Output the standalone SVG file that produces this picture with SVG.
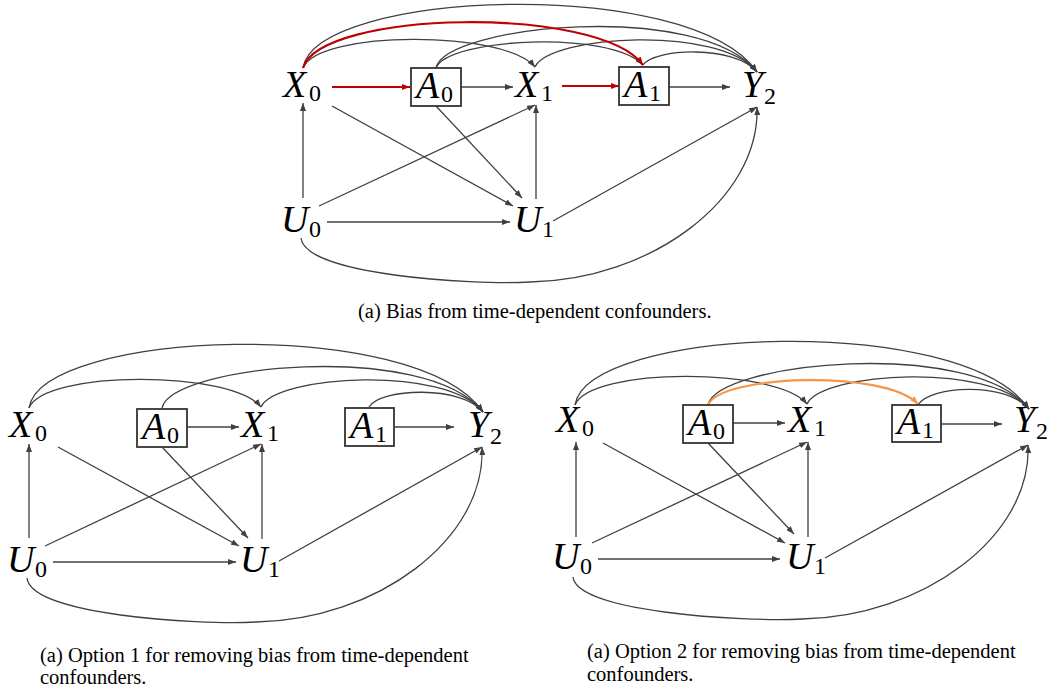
<svg xmlns="http://www.w3.org/2000/svg" width="1047" height="690" viewBox="0 0 1047 690">
<style>
.e{fill:none;stroke:#404040;stroke-width:1.3}
.r{fill:none;stroke:#c00000;stroke-width:2.2}
.o{fill:none;stroke:#f79646;stroke-width:2.2}
.v{font-family:"Liberation Serif","DejaVu Serif",serif;font-style:italic;font-size:38px;fill:#000}
.s{font-family:"Liberation Serif","DejaVu Serif",serif;font-size:24px;fill:#000}
.box{fill:#fff;stroke:#333;stroke-width:1.8}
.cap{font-family:"Liberation Serif","Times New Roman",serif;font-size:20.5px;fill:#000}
</style>
<defs>
<marker id="ak" viewBox="0 0 8 6" refX="8" refY="3" markerWidth="8" markerHeight="6" markerUnits="userSpaceOnUse" orient="auto"><path d="M0,0 L8,3 L0,6 z" fill="#404040"/></marker>
<marker id="ar" viewBox="0 0 8 6" refX="8" refY="3" markerWidth="8" markerHeight="6" markerUnits="userSpaceOnUse" orient="auto"><path d="M0,0 L8,3 L0,6 z" fill="#c00000"/></marker>
<marker id="ao" viewBox="0 0 8 6" refX="8" refY="3" markerWidth="8" markerHeight="6" markerUnits="userSpaceOnUse" orient="auto"><path d="M0,0 L8,3 L0,6 z" fill="#f79646"/></marker>
</defs>

<!-- Diagram (a): Bias from time-dependent confounders -->
<g id="diagram-a">
  <g id="a-connectors">
    <path class="e" d="M303,68 C315,-10 690,-25 757,72" marker-end="url(#ak)"/>
    <path class="e" d="M303,68 C318,30 505,30 535,67" marker-end="url(#ak)"/>
    <path class="e" d="M436,68 C445,25 700,0 757,72" marker-end="url(#ak)"/>
    <path class="e" d="M436,68 C448,38 610,30 643,65" marker-end="url(#ak)"/>
    <path class="e" d="M535,67 C550,35 720,25 757,72" marker-end="url(#ak)"/>
    <path class="e" d="M643,65 C655,48 735,45 757,72" marker-end="url(#ak)"/>
    <path class="r" d="M303,68 C320,10 600,5 643,65" marker-end="url(#ar)"/>
    <path class="r" d="M332,87 L410,87" marker-end="url(#ar)"/>
    <path class="e" d="M461,87 L513,87" marker-end="url(#ak)"/>
    <path class="r" d="M562,86 L619,86" marker-end="url(#ar)"/>
    <path class="e" d="M669,87 L730,87" marker-end="url(#ak)"/>
    <path class="e" d="M303,198 L303,103" marker-end="url(#ak)"/>
    <path class="e" d="M319,206 L535,105" marker-end="url(#ak)"/>
    <path class="e" d="M327,222 L510,222" marker-end="url(#ak)"/>
    <path class="e" d="M332,106 L513,206" marker-end="url(#ak)"/>
    <path class="e" d="M436,106 L522,198" marker-end="url(#ak)"/>
    <path class="e" d="M536,199 L536,105" marker-end="url(#ak)"/>
    <path class="e" d="M553,221 L757,107" marker-end="url(#ak)"/>
    <path class="e" d="M301,238 C305,275 470,285 530,282 C650,280 760,200 757,107" marker-end="url(#ak)"/>
  </g>
  <g id="a-X0"><text class="v" x="283" y="97">X</text><text class="s" x="309" y="101">0</text></g>
  <g id="a-A0"><rect class="box" x="411" y="68" width="50" height="38"/><text class="v" x="416" y="98">A</text><text class="s" x="441" y="102">0</text></g>
  <g id="a-X1"><text class="v" x="515" y="97">X</text><text class="s" x="541" y="101">1</text></g>
  <g id="a-A1"><rect class="box" x="619" y="67" width="50" height="38"/><text class="v" x="624" y="97">A</text><text class="s" x="649" y="101">1</text></g>
  <g id="a-Y2"><text class="v" x="742" y="97">Y</text><text class="s" x="764" y="104">2</text></g>
  <g id="a-U0"><text class="v" x="281" y="232">U</text><text class="s" x="309" y="237">0</text></g>
  <g id="a-U1"><text class="v" x="514" y="232">U</text><text class="s" x="542" y="237">1</text></g>
  <text class="cap" x="358" y="318">(a) Bias from time-dependent confounders.</text>
</g>

<!-- Diagram (b): Option 1 -->
<g id="diagram-b">
  <g transform="translate(-274,340)">
    <g id="b-connectors">
      <path class="e" d="M303,68 C315,-10 690,-25 757,72" marker-end="url(#ak)"/>
      <path class="e" d="M303,68 C318,30 505,30 535,67" marker-end="url(#ak)"/>
      <path class="e" d="M436,68 C445,25 700,0 757,72" marker-end="url(#ak)"/>
      <path class="e" d="M535,67 C550,35 720,25 757,72" marker-end="url(#ak)"/>
      <path class="e" d="M643,67 C655,48 735,45 757,72" marker-end="url(#ak)"/>
      <path class="e" d="M461,87 L513,87" marker-end="url(#ak)"/>
      <path class="e" d="M669,87 L728,87" marker-end="url(#ak)"/>
      <path class="e" d="M303,198 L303,104" marker-end="url(#ak)"/>
      <path class="e" d="M319,206 L535,104" marker-end="url(#ak)"/>
      <path class="e" d="M327,222 L510,222" marker-end="url(#ak)"/>
      <path class="e" d="M332,107 L513,206" marker-end="url(#ak)"/>
      <path class="e" d="M436,107 L522,198" marker-end="url(#ak)"/>
      <path class="e" d="M536,199 L536,104" marker-end="url(#ak)"/>
      <path class="e" d="M553,221 L756,107" marker-end="url(#ak)"/>
      <path class="e" d="M301,238 C305,275 470,285 530,282 C650,280 760,200 756,107" marker-end="url(#ak)"/>
    </g>
    <g id="b-X0"><text class="v" x="283" y="97">X</text><text class="s" x="309" y="101">0</text></g>
    <g id="b-A0"><rect class="box" x="411" y="69" width="50" height="38"/><text class="v" x="416" y="99">A</text><text class="s" x="441" y="103">0</text></g>
    <g id="b-X1"><text class="v" x="515" y="97">X</text><text class="s" x="541" y="101">1</text></g>
    <g id="b-A1"><rect class="box" x="619" y="68" width="49" height="38"/><text class="v" x="624" y="98">A</text><text class="s" x="649" y="102">1</text></g>
    <g id="b-Y2"><text class="v" x="742" y="97">Y</text><text class="s" x="764" y="104">2</text></g>
    <g id="b-U0"><text class="v" x="281" y="232">U</text><text class="s" x="309" y="237">0</text></g>
    <g id="b-U1"><text class="v" x="514" y="232">U</text><text class="s" x="542" y="237">1</text></g>
  </g>
  <text class="cap" x="40" y="662">(a) Option 1 for removing bias from time-dependent</text>
  <text class="cap" x="40" y="684">confounders.</text>
</g>

<!-- Diagram (c): Option 2 -->
<g id="diagram-c">
  <g transform="translate(272,337)">
    <g id="c-connectors">
      <path class="e" d="M303,68 C315,-10 690,-25 757,72" marker-end="url(#ak)"/>
      <path class="e" d="M303,68 C318,30 505,30 535,67" marker-end="url(#ak)"/>
      <path class="e" d="M436,68 C445,25 700,0 757,72" marker-end="url(#ak)"/>
      <path class="e" d="M535,67 C550,35 720,25 757,72" marker-end="url(#ak)"/>
      <path class="e" d="M646,68 C658,48 735,45 757,72" marker-end="url(#ak)"/>
      <path class="o" d="M436,68 C448,38 612,32 646,67" marker-end="url(#ao)"/>
      <path class="e" d="M461,86 L513,86" marker-end="url(#ak)"/>
      <path class="e" d="M669,87 L730,87" marker-end="url(#ak)"/>
      <path class="e" d="M304,200 L304,105" marker-end="url(#ak)"/>
      <path class="e" d="M320,206 L535,105" marker-end="url(#ak)"/>
      <path class="e" d="M326,222 L508,222" marker-end="url(#ak)"/>
      <path class="e" d="M331,106 L513,206" marker-end="url(#ak)"/>
      <path class="e" d="M436,106 L522,197" marker-end="url(#ak)"/>
      <path class="e" d="M536,200 L536,105" marker-end="url(#ak)"/>
      <path class="e" d="M553,221 L756,108" marker-end="url(#ak)"/>
      <path class="e" d="M301,240 C305,275 470,285 530,282 C650,280 760,200 756,108" marker-end="url(#ak)"/>
    </g>
    <g id="c-X0"><text class="v" x="284" y="95">X</text><text class="s" x="310" y="99">0</text></g>
    <g id="c-A0"><rect class="box" x="411" y="68" width="50" height="38"/><text class="v" x="416" y="98">A</text><text class="s" x="441" y="102">0</text></g>
    <g id="c-X1"><text class="v" x="516" y="95">X</text><text class="s" x="542" y="99">1</text></g>
    <g id="c-A1"><rect class="box" x="620" y="68" width="49" height="37"/><text class="v" x="625" y="97">A</text><text class="s" x="650" y="101">1</text></g>
    <g id="c-Y2"><text class="v" x="742" y="95">Y</text><text class="s" x="764" y="102">2</text></g>
    <g id="c-U0"><text class="v" x="280" y="232">U</text><text class="s" x="308" y="237">0</text></g>
    <g id="c-U1"><text class="v" x="514" y="232">U</text><text class="s" x="542" y="237">1</text></g>
  </g>
  <text class="cap" x="587" y="658">(a) Option 2 for removing bias from time-dependent</text>
  <text class="cap" x="587" y="681">confounders.</text>
</g>
</svg>
